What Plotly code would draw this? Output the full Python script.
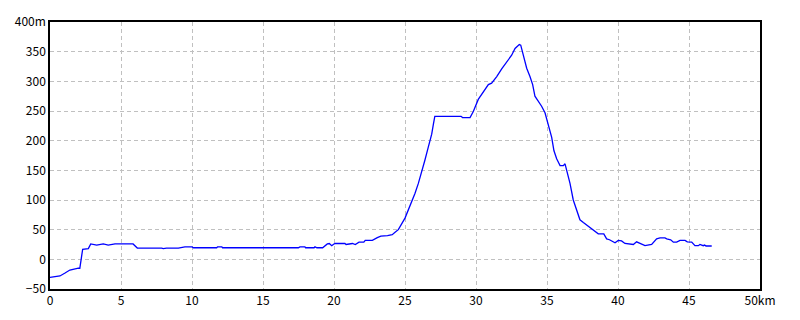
import plotly.graph_objects as go

distance_km = [0, 0.7, 1.06, 1.4, 2.0, 2.1, 2.3, 2.7, 2.87, 3.29, 3.75, 4.1, 4.58, 5.85, 6.15, 6.76, 6.9,
               7.86, 7.98, 8.2, 9.04, 9.5, 10.0, 10.1, 11.74, 11.8, 12.1, 12.15, 17.49, 17.6, 17.95, 18.0,
               18.6, 18.66, 18.8, 19.2, 19.53, 19.67, 19.84, 19.95, 20.07, 20.77, 20.85, 21.3, 21.5, 21.76,
               22.1, 22.2, 22.7, 23.05, 23.3, 23.77, 24.1, 24.3, 24.53, 25.0, 25.35, 25.7, 25.94, 26.17,
               26.4, 26.64, 26.88, 27.0, 27.1, 28.95, 29.05, 29.58, 29.81, 30.16, 30.52, 30.87, 31.1,
               31.46, 31.81, 32.16, 32.51, 32.75, 33.05, 33.15, 33.33, 33.57, 33.8, 33.99, 34.15, 34.32,
               34.62, 34.86, 35.1, 35.33, 35.49, 35.68, 35.92, 36.15, 36.27, 36.39, 36.62, 36.85, 37.09,
               37.32, 37.56, 37.91, 38.15, 38.38, 38.61, 39.0, 39.2, 39.4, 39.79, 40.02, 40.25, 40.49,
               40.85, 41.08, 41.31, 41.67, 41.9, 42.37, 42.49, 42.72, 42.96, 43.31, 43.43, 43.71, 43.9,
               44.13, 44.37, 44.72, 44.88, 45.19, 45.42, 45.66, 45.77, 46.0, 46.1, 46.2, 46.6]
elevation_m = [-30.5, -28, -23, -18, -15, -15, 17, 18, 26, 24, 26, 24, 26, 26, 19, 18, 19,
               19, 18, 19, 19, 21, 21, 19.5, 19.5, 21, 21, 19.5, 19.5, 21, 21, 19.5,
               19.5, 21, 19.5, 19.5, 26, 26.7, 23, 25, 26.7, 26.7, 25, 26.7, 25, 29,
               29, 32, 32, 36.5, 39, 40, 41.6, 45.5, 50, 69.5, 89, 111, 128, 150,
               167, 189, 211, 228, 241, 241, 239, 239, 249, 269.5, 283, 294.5, 297,
               308, 321, 333, 344, 355.5, 362, 361, 344, 322, 308, 294.5, 275, 269.5,
               258, 247, 225, 205.5, 183, 169.5, 158, 158, 161, 150, 128, 100, 83,
               66.7, 62, 55.5, 50, 47, 43, 43, 34.5, 33, 28, 32, 31, 26.7,
               25, 25, 29.5, 25, 23, 25, 28, 34.5, 36, 36, 34.5, 33, 29,
               29, 32, 32, 29.5, 29, 23, 23, 25, 23, 24, 22.5, 22.5]

x_tick_vals = [0, 5, 10, 15, 20, 25, 30, 35, 40, 45, 50]
x_tick_text = ["0", "5", "10", "15", "20", "25", "30", "35", "40", "45", "50km"]
y_tick_vals = [-50, 0, 50, 100, 150, 200, 250, 300, 350, 400]
y_tick_text = ["−50", "0", "50", "100", "150", "200", "250", "300", "350", "400m"]

fig = go.Figure()
fig.add_trace(go.Scatter(x=distance_km, y=elevation_m, mode="lines",
                         line=dict(color="#0000ff", width=1.3), hoverinfo="skip"))

font = dict(family="Noto Sans CJK JP, DejaVu Sans", size=12, color="#000000")
fig.update_layout(
    width=800, height=320,
    margin=dict(l=50, r=40, t=20, b=30),
    paper_bgcolor="white", plot_bgcolor="white",
    showlegend=False, font=font,
    xaxis=dict(range=[0, 50], tickvals=x_tick_vals, ticktext=x_tick_text,
               showgrid=True, gridcolor="#c0c0c0", griddash="4px,3px", gridwidth=1,
               showline=True, linecolor="black", linewidth=1.5, mirror=True,
               ticks="", zeroline=False, tickfont=font),
    yaxis=dict(range=[-50, 400], tickvals=y_tick_vals, ticktext=y_tick_text,
               showgrid=True, gridcolor="#c0c0c0", griddash="4px,3px", gridwidth=1,
               showline=True, linecolor="black", linewidth=1.5, mirror=True,
               ticks="", zeroline=False, tickfont=font),
)
fig.write_html("out.html")
